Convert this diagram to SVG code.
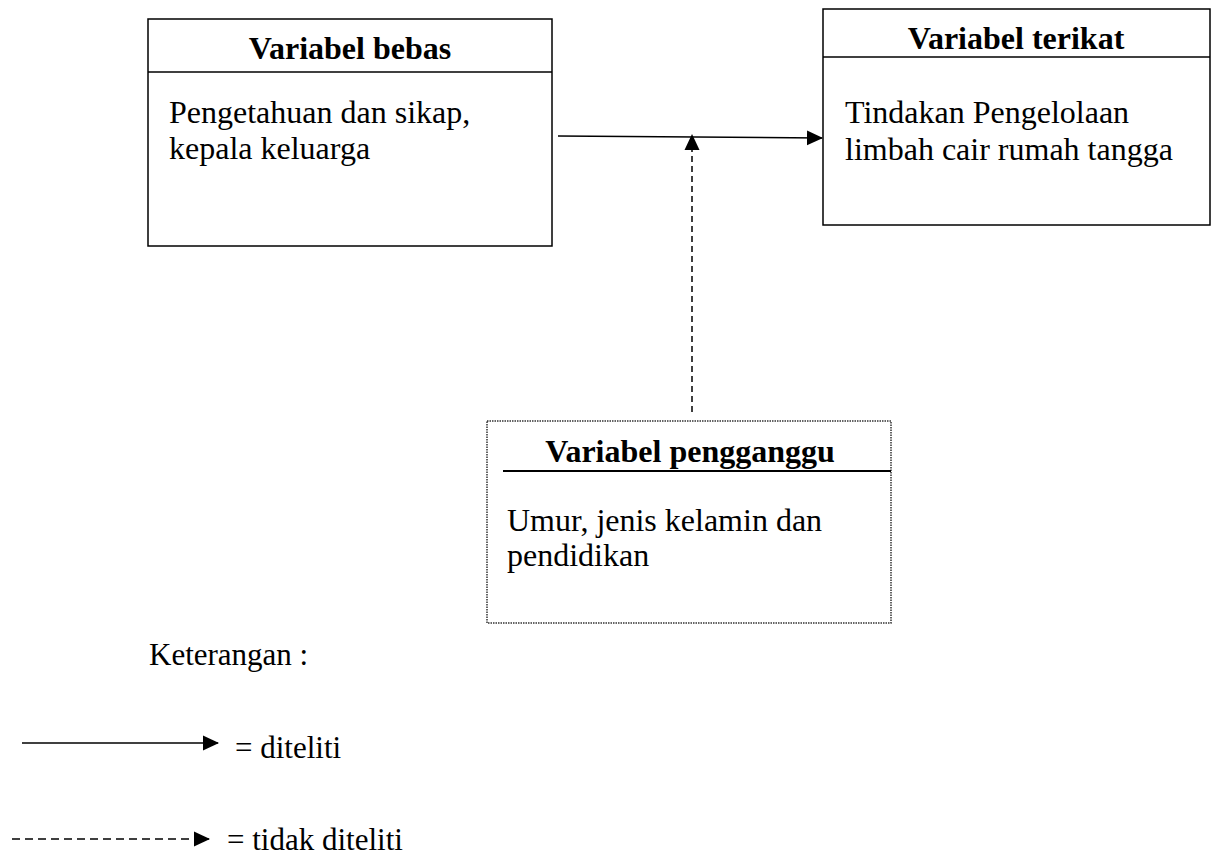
<svg xmlns="http://www.w3.org/2000/svg" width="1221" height="857" viewBox="0 0 1221 857">
<defs>
<style>
.box{fill:#fff;stroke:#000;stroke-width:1.5}
.dot{fill:#fff;stroke:#333;stroke-width:1.5;stroke-dasharray:1.5 1}
.hl{stroke:#000;stroke-width:1.5}
.title{font-family:"Liberation Serif","Times New Roman",serif;font-weight:bold;font-size:32px;fill:#000;text-anchor:middle}
.body{font-family:"Liberation Serif","Times New Roman",serif;font-size:32px;fill:#000}
.leg{font-family:"Liberation Serif","Times New Roman",serif;font-size:31px;fill:#000}
.line{stroke:#000;stroke-width:1.5;fill:none}
.dash{stroke:#000;stroke-width:1.5;fill:none;stroke-dasharray:6 4}
.ldash{stroke:#000;stroke-width:1.5;fill:none;stroke-dasharray:8 5}
</style>
<marker id="ah" viewBox="0 0 16 16" refX="15" refY="8" markerWidth="16" markerHeight="16" markerUnits="userSpaceOnUse" orient="auto">
<path d="M0,0.5 L16,8 L0,15.5 Z" fill="#000"/>
</marker>
</defs>
<g id="bebas">
<rect class="box" x="148" y="19" width="404" height="227"/>
<line class="hl" x1="148" y1="72" x2="552" y2="72"/>
<text class="title" x="350" y="59">Variabel bebas</text>
<text class="body" x="169" y="123">Pengetahuan dan sikap,</text>
<text class="body" x="169" y="159">kepala keluarga</text>
</g>
<g id="terikat">
<rect class="box" x="823" y="9" width="387" height="216"/>
<line class="hl" x1="823" y1="57" x2="1210" y2="57"/>
<text class="title" x="1016" y="49">Variabel terikat</text>
<text class="body" x="845" y="123">Tindakan Pengelolaan</text>
<text class="body" x="845" y="160">limbah cair rumah tangga</text>
</g>
<g id="pengganggu">
<rect class="dot" x="487" y="421" width="404" height="202"/>
<line x1="503" y1="471" x2="891" y2="471" stroke="#000" stroke-width="2"/>
<text class="title" x="690" y="462">Variabel pengganggu</text>
<text class="body" x="507" y="531">Umur, jenis kelamin dan</text>
<text class="body" x="507" y="566">pendidikan</text>
</g>
<g id="connectors">
<line class="line" x1="558" y1="136" x2="822" y2="138" marker-end="url(#ah)"/>
<line class="dash" x1="692" y1="412" x2="692" y2="135" marker-end="url(#ah)"/>
</g>
<g id="legend">
<text class="leg" x="149" y="665">Keterangan :</text>
<line class="line" x1="22" y1="743" x2="218" y2="743" marker-end="url(#ah)"/>
<text class="leg" x="235" y="758">= diteliti</text>
<line class="ldash" x1="12" y1="839" x2="209" y2="839" marker-end="url(#ah)"/>
<text class="leg" x="227" y="850">= tidak diteliti</text>
</g>
</svg>
